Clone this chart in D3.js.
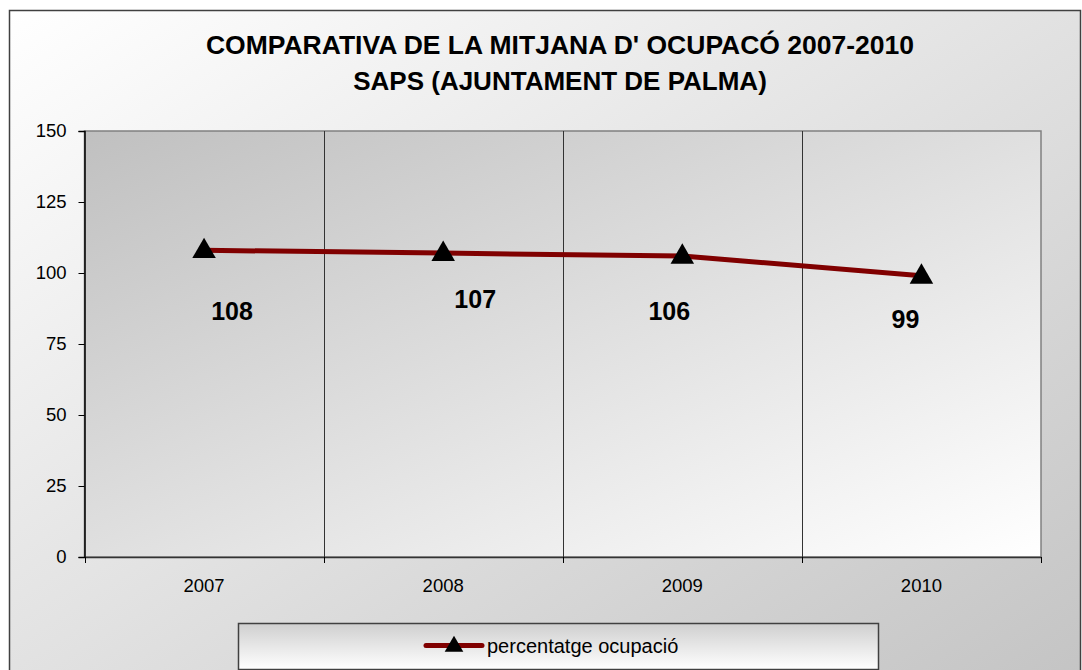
<!DOCTYPE html>
<html>
<head>
<meta charset="utf-8">
<script src="https://cdn.jsdelivr.net/npm/d3@7"></script>
<style>
  html, body { margin: 0; padding: 0; background: #ffffff; }
  svg { display: block; }
  text { font-family: "Liberation Sans", Arial, sans-serif; }
</style>
</head>
<body>
<svg id="chart" width="1082" height="670"></svg>
<script>
// ---- data ----
const titleLines = ["COMPARATIVA DE LA MITJANA D' OCUPACÓ 2007-2010", "SAPS (AJUNTAMENT DE PALMA)"];
const categories = ["2007", "2008", "2009", "2010"];
const values = [108, 107, 106, 99];
const valueLabels = ["108", "107", "106", "99"];
const yTicks = [0, 25, 50, 75, 100, 125, 150];
const seriesName = "percentatge ocupació";

// ---- layout ----
const plot = { left: 84.5, top: 131, right: 1041, bottom: 557 };
const labelOffsets = [[28, 61], [32, 46], [-13, 55], [-16, 43]];

const svg = d3.select("#chart");
const defs = svg.append("defs");

const gChart = defs.append("linearGradient").attr("id", "gChart")
  .attr("x1", 0).attr("y1", 0).attr("x2", 1).attr("y2", 1);
gChart.append("stop").attr("offset", "0%").attr("stop-color", "#ffffff");
gChart.append("stop").attr("offset", "100%").attr("stop-color", "#c4c4c4");

const gPlot = defs.append("linearGradient").attr("id", "gPlot")
  .attr("x1", 0).attr("y1", 0).attr("x2", 1).attr("y2", 1);
gPlot.append("stop").attr("offset", "0%").attr("stop-color", "#c0c0c0");
gPlot.append("stop").attr("offset", "100%").attr("stop-color", "#ffffff");

const gLeg = defs.append("linearGradient").attr("id", "gLeg")
  .attr("x1", 0).attr("y1", 0).attr("x2", 0).attr("y2", 1);
gLeg.append("stop").attr("offset", "0%").attr("stop-color", "#cfcfcf");
gLeg.append("stop").attr("offset", "100%").attr("stop-color", "#ffffff");

// chart area
svg.append("rect").attr("x", 9.5).attr("y", 10.5).attr("width", 1071).attr("height", 670)
  .attr("fill", "url(#gChart)").attr("stroke", "#404040").attr("stroke-width", 1.5);

// title
const title = svg.append("text").attr("text-anchor", "middle")
  .attr("font-weight", "bold").attr("fill", "#000");
titleLines.forEach((t, i) => {
  title.append("tspan").attr("x", 560).attr("y", 54 + i * 36)
    .attr("font-size", i === 0 ? 26.5 : 26).text(t);
});

// scales
const x = d3.scaleBand().domain(categories).range([plot.left, plot.right]);
const y = d3.scaleLinear().domain([0, 150]).range([plot.bottom, plot.top]);

// plot area
svg.append("rect").attr("x", plot.left).attr("y", plot.top)
  .attr("width", plot.right - plot.left).attr("height", plot.bottom - plot.top)
  .attr("fill", "url(#gPlot)").attr("stroke", "#808080").attr("stroke-width", 1.5);

// vertical gridlines at category boundaries
svg.append("g").selectAll("line").data(categories.slice(1)).join("line")
  .attr("x1", d => Math.round(x(d)) + 0.5).attr("x2", d => Math.round(x(d)) + 0.5)
  .attr("y1", plot.top).attr("y2", plot.bottom)
  .attr("stroke", "#333").attr("stroke-width", 1);

// y axis
const yAxis = svg.append("g").attr("transform", `translate(${plot.left},0)`)
  .call(d3.axisLeft(y).tickValues(yTicks).tickSize(6).tickPadding(12));
yAxis.select(".domain").attr("stroke", "#000").attr("stroke-width", 1.5);
yAxis.selectAll(".tick line").attr("stroke", "#000");
yAxis.selectAll(".tick text").attr("font-size", 18.5).attr("fill", "#000")
  .attr("font-family", "Liberation Sans, Arial, sans-serif");

// x axis
const xAxis = svg.append("g").attr("transform", `translate(0,${plot.bottom})`)
  .call(d3.axisBottom(x).tickSize(0).tickPadding(22));
xAxis.select(".domain").attr("stroke", "#333").attr("stroke-width", 1.5);
xAxis.selectAll(".tick text").attr("font-size", 18.5).attr("fill", "#000")
  .attr("font-family", "Liberation Sans, Arial, sans-serif");
const bounds = categories.map(c => x(c)).concat([x.range()[1]]);
xAxis.selectAll("line.bt").data(bounds).join("line").attr("class", "bt")
  .attr("x1", d => Math.round(d) + 0.5).attr("x2", d => Math.round(d) + 0.5)
  .attr("y1", 0).attr("y2", 6).attr("stroke", "#000");

// line series
const cx = d => x(d) + x.bandwidth() / 2;
const line = d3.line().x((d, i) => cx(categories[i])).y(d => y(d));
svg.append("path").datum(values).attr("d", line)
  .attr("fill", "none").attr("stroke", "#800000").attr("stroke-width", 5)
  .attr("stroke-linejoin", "round");

const tri = d3.symbol().type(d3.symbolTriangle).size(240);
svg.append("g").selectAll("path").data(values).join("path")
  .attr("d", tri)
  .attr("transform", (d, i) => `translate(${cx(categories[i])},${y(d) + 1})`)
  .attr("fill", "#000");

// data labels
svg.append("g").selectAll("text").data(values).join("text")
  .attr("x", (d, i) => cx(categories[i]) + labelOffsets[i][0])
  .attr("y", (d, i) => y(d) + labelOffsets[i][1] + 9)
  .attr("text-anchor", "middle").attr("font-weight", "bold")
  .attr("font-size", 25).attr("fill", "#000")
  .text((d, i) => valueLabels[i]);

// legend
const leg = { x: 238.5, y: 623.5, w: 640, h: 46 };
svg.append("rect").attr("x", leg.x).attr("y", leg.y).attr("width", leg.w).attr("height", leg.h)
  .attr("fill", "url(#gLeg)").attr("stroke", "#404040").attr("stroke-width", 1.5);
const ly = leg.y + leg.h / 2 - 1;
svg.append("line").attr("x1", 426).attr("x2", 482).attr("y1", ly).attr("y2", ly)
  .attr("stroke", "#800000").attr("stroke-width", 5).attr("stroke-linecap", "round");
svg.append("path").attr("d", d3.symbol().type(d3.symbolTriangle).size(150))
  .attr("transform", `translate(454,${ly + 1})`).attr("fill", "#000");
svg.append("text").attr("x", 487).attr("y", ly + 7).attr("font-size", 20)
  .attr("fill", "#000").text(seriesName);
</script>
</body>
</html>
